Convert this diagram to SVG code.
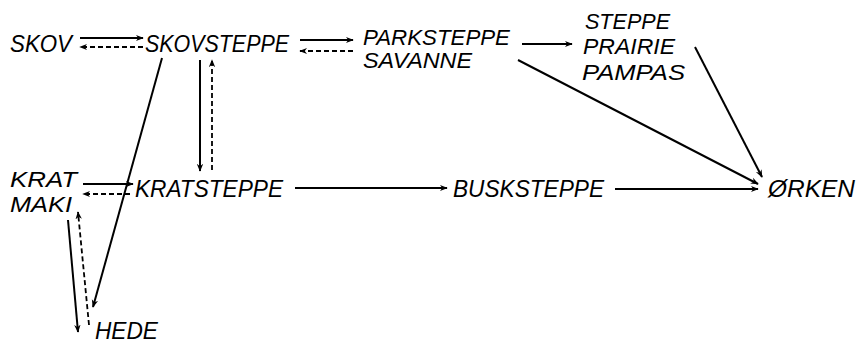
<svg xmlns="http://www.w3.org/2000/svg" width="858" height="344" viewBox="0 0 858 344">
<style>
text{font-family:"Liberation Sans",Arial,sans-serif;font-style:italic;font-size:24px;fill:#000}
.st{font-size:22px}
.s{stroke:#000;stroke-width:2;fill:none;marker-end:url(#ah)}
.d{stroke:#000;stroke-width:1.8;fill:none;stroke-dasharray:5 3;marker-end:url(#ah)}
</style>
<defs>
<marker id="ah" viewBox="0 0 10 10" refX="9" refY="5" markerWidth="8" markerHeight="8" orient="auto" markerUnits="userSpaceOnUse">
<path d="M0,1 L10,5 L0,9 L3,5z" fill="#000"/>
</marker>
</defs>
<rect width="858" height="344" fill="#fff"/>
<g id="connectors">
<line class="s" x1="80" y1="38" x2="143" y2="38"/>
<line class="d" x1="143" y1="47" x2="80" y2="47"/>
<line class="s" x1="300" y1="40" x2="353" y2="40"/>
<line class="d" x1="353" y1="51" x2="300" y2="51"/>
<line class="s" x1="522" y1="44" x2="572" y2="44"/>
<line class="s" x1="695" y1="47" x2="762" y2="177"/>
<line class="s" x1="518" y1="60" x2="758" y2="184"/>
<line class="s" x1="200" y1="60" x2="200" y2="171"/>
<line class="d" x1="212" y1="170" x2="212" y2="60"/>
<line class="s" x1="162" y1="58" x2="93" y2="307"/>
<line class="s" x1="83" y1="184" x2="133" y2="184"/>
<line class="d" x1="130" y1="194" x2="83" y2="194"/>
<line class="s" x1="295" y1="188" x2="447" y2="188"/>
<line class="s" x1="615" y1="189" x2="758" y2="189"/>
<line class="s" x1="68" y1="220" x2="78" y2="332"/>
<line class="d" x1="89" y1="325" x2="78" y2="212"/>
</g>
<g id="skov"><text x="10" y="52" textLength="62" lengthAdjust="spacingAndGlyphs">SKOV</text></g>
<g id="skovsteppe"><text x="145" y="52" textLength="144" lengthAdjust="spacingAndGlyphs">SKOVSTEPPE</text></g>
<g id="parksteppe"><text class="st" x="363" y="45" textLength="147" lengthAdjust="spacingAndGlyphs">PARKSTEPPE</text><text class="st" x="363" y="68" textLength="109" lengthAdjust="spacingAndGlyphs">SAVANNE</text></g>
<g id="steppe"><text class="st" x="585" y="29" textLength="85" lengthAdjust="spacingAndGlyphs">STEPPE</text><text class="st" x="583" y="54" textLength="92" lengthAdjust="spacingAndGlyphs">PRAIRIE</text><text class="st" x="582" y="80" textLength="103" lengthAdjust="spacingAndGlyphs">PAMPAS</text></g>
<g id="krat"><text class="st" x="10" y="187" textLength="67" lengthAdjust="spacingAndGlyphs">KRAT</text><text class="st" x="10" y="212" textLength="62" lengthAdjust="spacingAndGlyphs">MAKI</text></g>
<g id="kratsteppe"><text x="135" y="197" textLength="148" lengthAdjust="spacingAndGlyphs">KRATSTEPPE</text></g>
<g id="busksteppe"><text x="453" y="197" textLength="151" lengthAdjust="spacingAndGlyphs">BUSKSTEPPE</text></g>
<g id="orken"><text x="768" y="197" textLength="87" lengthAdjust="spacingAndGlyphs">ØRKEN</text></g>
<g id="hede"><text x="95" y="339" textLength="63" lengthAdjust="spacingAndGlyphs">HEDE</text></g>
</svg>
